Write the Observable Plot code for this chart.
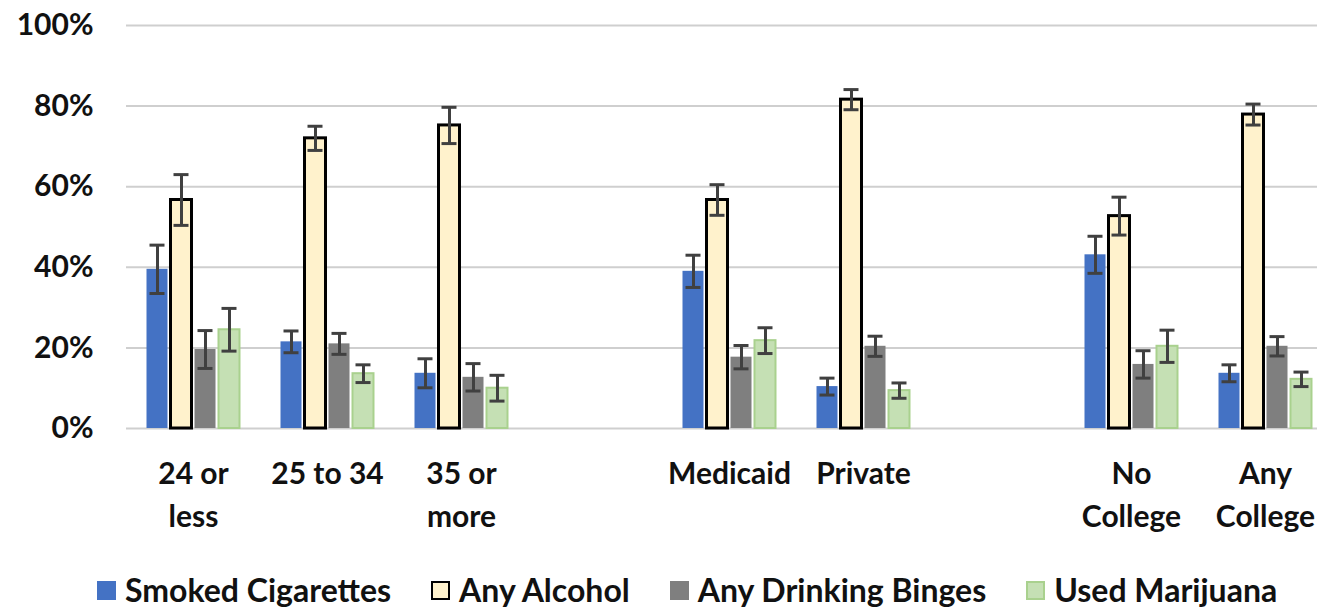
<!DOCTYPE html>
<html>
<head>
<meta charset="utf-8">
<script src="https://cdn.jsdelivr.net/npm/d3@7"></script>
<script src="https://cdn.jsdelivr.net/npm/@observablehq/plot@0.6"></script>
<style>
  html, body { margin: 0; padding: 0; background: #fff; }
  #wrap { position: relative; width: 1317px; height: 608px; overflow: hidden; font-family: Lato, "Noto Sans", sans-serif; }
  #legend { position: absolute; left: 97px; top: 575px; display: flex; align-items: center; font-weight: 700; font-size: 32px; line-height: 30px; color: #111; white-space: nowrap; }
  #legend .item { display: flex; align-items: center; margin-right: 40px; }
  #legend .sw { width: 19px; height: 19px; margin-right: 9px; box-sizing: border-box; }
</style>
</head>
<body>
<div id="wrap">
  <div id="chart"></div>
  <div id="legend"></div>
</div>
<script>
// ---- data ----
const slots = ["24 or less", "25 to 34", "35 or more", "gapA", "Medicaid", "Private", "gapB", "No College", "Any College"];
const categories = ["24 or less", "25 to 34", "35 or more", "Medicaid", "Private", "No College", "Any College"];
const tickLabels = ["24 or\nless", "25 to 34", "35 or\nmore", "Medicaid", "Private", "No\nCollege", "Any\nCollege"];
const series = ["Smoked Cigarettes", "Any Alcohol", "Any Drinking Binges", "Used Marijuana"];

const smoked      = [39.5, 21.5, 13.7, 39.0, 10.4, 43.1, 13.7];
const smokedErr   = [6.0, 2.7, 3.6, 4.0, 2.1, 4.6, 2.1];
const alcohol     = [56.7, 72.0, 75.2, 56.7, 81.6, 52.7, 77.9];
const alcoholErr  = [6.3, 3.0, 4.5, 3.8, 2.5, 4.7, 2.6];
const binges      = [19.6, 21.0, 12.7, 17.7, 20.4, 15.9, 20.4];
const bingesErr   = [4.7, 2.6, 3.4, 2.9, 2.5, 3.4, 2.4];
const marijuana   = [24.5, 13.6, 10.0, 21.8, 9.4, 20.4, 12.2];
const marijuanaErr= [5.3, 2.2, 3.2, 3.2, 1.9, 4.0, 1.8];

const yTicks = [0, 20, 40, 60, 80, 100];

// ---- styles ----
const fills   = {"Smoked Cigarettes": "#4472C4", "Any Alcohol": "#FFF2CC", "Any Drinking Binges": "#7F7F7F", "Used Marijuana": "#C5E0B4"};
const strokes = {"Smoked Cigarettes": "none", "Any Alcohol": "#000000", "Any Drinking Binges": "none", "Used Marijuana": "#A9D18E"};
const strokeW = {"Smoked Cigarettes": 0, "Any Alcohol": 3, "Any Drinking Binges": 0, "Used Marijuana": 2};

const valuesBySeries = [smoked, alcohol, binges, marijuana];
const errBySeries = [smokedErr, alcoholErr, bingesErr, marijuanaErr];

const rows = [];
series.forEach((s, si) => {
  categories.forEach((c, ci) => {
    rows.push({cat: c, series: s, value: valuesBySeries[si][ci], err: errBySeries[si][ci]});
  });
});

// gridlines in every slot (so that every facet, including the gaps, exists)
const gridRows = [];
slots.forEach(sl => yTicks.forEach(v => gridRows.push({cat: sl, v})));

const labelOf = new Map(categories.map((c, i) => [c, tickLabels[i]]));

const FONT = "Lato, 'Noto Sans', sans-serif";

const marks = [
  Plot.ruleY(gridRows, {fx: "cat", y: "v", stroke: "#cfcfcf", strokeWidth: 2}),
];
series.forEach(s => {
  marks.push(Plot.barY(rows.filter(d => d.series === s), {
    fx: "cat", x: "series", y: "value",
    fill: fills[s], stroke: strokes[s], strokeWidth: strokeW[s]
  }));
});
marks.push(
  Plot.ruleX(rows, {fx: "cat", x: "series", y1: d => d.value - d.err, y2: d => d.value + d.err, stroke: "#404040", strokeWidth: 3}),
  Plot.tickY(rows, {fx: "cat", x: "series", y: d => d.value - d.err, stroke: "#404040", strokeWidth: 3, insetLeft: 3, insetRight: 3}),
  Plot.tickY(rows, {fx: "cat", x: "series", y: d => d.value + d.err, stroke: "#404040", strokeWidth: 3, insetLeft: 3, insetRight: 3}),
  Plot.axisY({ticks: yTicks, tickSize: 0, tickPadding: 33, tickFormat: d => d + "%", fontSize: 30, fontWeight: 700, fill: "#111", fontFamily: FONT, label: null}),
  Plot.axisFx({anchor: "bottom", tickSize: 0, tickPadding: 25, tickFormat: d => labelOf.get(d) ?? "", fontSize: 30, fontWeight: 700, fill: "#111", lineHeight: 1.43, fontFamily: FONT, label: null})
);

const chart = Plot.plot({
  width: 1317,
  height: 560,
  marginLeft: 123.5,
  marginRight: -16.5,
  marginTop: 25,
  marginBottom: 132,
  style: {fontFamily: FONT, overflow: "hidden"},
  fx: {domain: slots, padding: 0, label: null},
  x: {domain: series, paddingInner: 0.14, paddingOuter: 0.84, axis: null},
  y: {domain: [0, 100], axis: null},
  marks
});
document.getElementById("chart").appendChild(chart);

// ---- legend ----
const legend = document.getElementById("legend");
series.forEach(s => {
  const item = document.createElement("div");
  item.className = "item";
  const sw = document.createElement("div");
  sw.className = "sw";
  sw.style.background = fills[s];
  if (strokes[s] !== "none") sw.style.border = "2px solid " + strokes[s];
  const t = document.createElement("span");
  t.textContent = s;
  item.appendChild(sw);
  item.appendChild(t);
  legend.appendChild(item);
});
</script>
</body>
</html>
